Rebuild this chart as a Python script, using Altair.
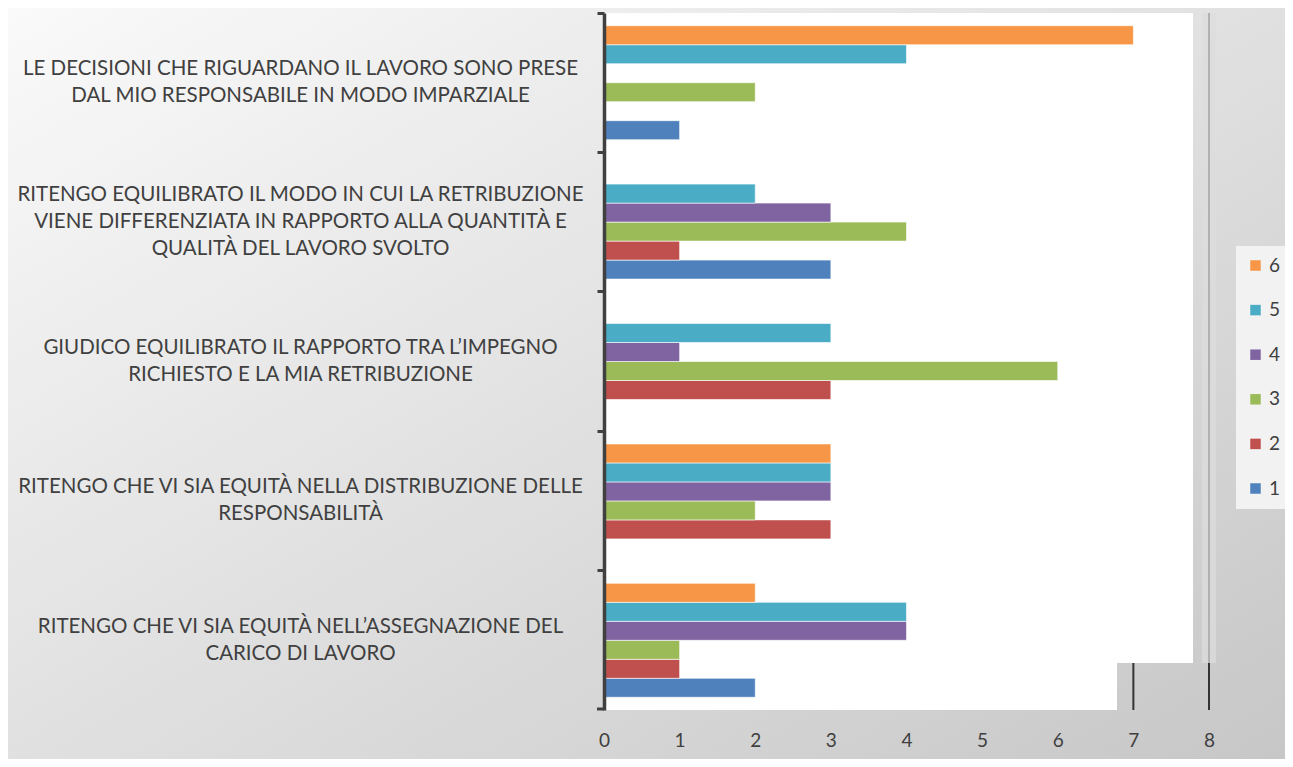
import altair as alt
import pandas as pd

# ---- data ----
categories = [
    "LE DECISIONI CHE RIGUARDANO IL LAVORO SONO PRESE|DAL MIO RESPONSABILE IN MODO IMPARZIALE",
    "RITENGO EQUILIBRATO IL MODO IN CUI LA RETRIBUZIONE|VIENE DIFFERENZIATA IN RAPPORTO ALLA QUANTITÀ E|QUALITÀ DEL LAVORO SVOLTO",
    "GIUDICO EQUILIBRATO IL RAPPORTO TRA L’IMPEGNO|RICHIESTO E LA MIA RETRIBUZIONE",
    "RITENGO CHE VI SIA EQUITÀ NELLA DISTRIBUZIONE DELLE|RESPONSABILITÀ",
    "RITENGO CHE VI SIA EQUITÀ NELL’ASSEGNAZIONE DEL|CARICO DI LAVORO",
]
series_names = ["1", "2", "3", "4", "5", "6"]
s1 = [1, 3, 0, 0, 2]
s2 = [0, 1, 3, 3, 1]
s3 = [2, 4, 6, 2, 1]
s4 = [0, 3, 1, 3, 4]
s5 = [4, 2, 3, 3, 4]
s6 = [7, 0, 0, 3, 2]
series_values = [s1, s2, s3, s4, s5, s6]
series_colors = ["#4f81bd", "#c0504d", "#9bbb59", "#8064a2", "#4bacc6", "#f79646"]
x_ticks = [0, 1, 2, 3, 4, 5, 6, 7, 8]
grid_ticks = [7, 8]

rows = []
for name, vals in zip(series_names, series_values):
    for cat, v in zip(categories, vals):
        if v > 0:
            rows.append({"cat": cat, "serie": name, "val": v})
df = pd.DataFrame(rows)

order_desc = series_names[::-1]
colors_desc = series_colors[::-1]

W, H = 605, 697
FONT = "Lato"
TXT = "#404040"
LH = 27

xscale = alt.Scale(domain=[0, 8], nice=False, zero=True)
xaxis = alt.Axis(values=x_ticks, grid=False, domain=False, ticks=False, zindex=1,
                 labelFlush=False,
                 labelFont=FONT, labelFontSize=19, labelColor=TXT,
                 labelPadding=21, format="d")

bg = alt.Chart(pd.DataFrame({"a": [0]})).mark_rect(
    color=alt.Gradient(
        gradient="linear",
        stops=[alt.GradientStop(color="#fafafa", offset=0),
               alt.GradientStop(color="#e0e0e0", offset=0.5),
               alt.GradientStop(color="#c6c6c6", offset=1)],
        x1=0, y1=0, x2=1, y2=1,
    )
).encode(x=alt.value(-600), x2=alt.value(700), y=alt.value(-10), y2=alt.value(760))

rules = alt.Chart(pd.DataFrame({"v": grid_ticks})).mark_rule(
    color="#333333", strokeWidth=2
).encode(x=alt.X("v:Q", scale=xscale, title=None, axis=xaxis))

white1 = alt.Chart(pd.DataFrame({"a": [0]})).mark_rect(color="white").encode(
    x=alt.value(0), x2=alt.value(589), y=alt.value(0), y2=alt.value(650))
white2 = alt.Chart(pd.DataFrame({"a": [0]})).mark_rect(color="white").encode(
    x=alt.value(0), x2=alt.value(513), y=alt.value(650), y2=alt.value(H))
soften = alt.Chart(pd.DataFrame({"a": [0]})).mark_rect(color="#dcdcdc", opacity=0.75).encode(
    x=alt.value(598), x2=alt.value(612), y=alt.value(0), y2=alt.value(650))
bottom_tick = alt.Chart(pd.DataFrame({"a": [0]})).mark_rule(color=TXT, strokeWidth=3).encode(
    x=alt.value(-7), x2=alt.value(0), y=alt.value(H - 1))

label_shift = {
    "condition": {"test": "length(split(datum.value, '|')) > 2", "value": -LH},
    "value": -LH / 2,
}

bars = alt.Chart(df).mark_bar(stroke="white", strokeWidth=1, strokeOpacity=0.6).encode(
    x=alt.X("val:Q", scale=xscale, title=None, axis=xaxis),
    y=alt.Y("cat:N", sort=categories, title=None,
            scale=alt.Scale(domain=categories, paddingInner=0, paddingOuter=0),
            axis=alt.Axis(bandPosition=0, labelOffset=label_shift,
                          labelExpr="split(datum.label, '|')",
                          labelAlign="center", labelBaseline="middle",
                          labelPadding=297, tickSize=7, tickWidth=3, tickColor=TXT,
                          domainColor=TXT, domainWidth=3.5, zindex=1,
                          labelFont=FONT, labelFontSize=20.5, labelColor=TXT,
                          labelLineHeight=LH, labelLimit=800)),
    yOffset=alt.YOffset("serie:N", sort=order_desc,
                        scale=alt.Scale(domain=order_desc, paddingInner=0, paddingOuter=0.67)),
    color=alt.Color("serie:N", sort=order_desc,
                    scale=alt.Scale(domain=order_desc, range=colors_desc),
                    legend=alt.Legend(title=None, orient="none", legendX=632, legendY=233,
                                      fillColor="#f2f2f2", padding=10,
                                      symbolType="square", symbolSize=110,
                                      symbolStrokeWidth=0, rowPadding=24.6,
                                      labelFont=FONT, labelFontSize=19, labelColor=TXT,
                                      labelOffset=4)),
)

chart = alt.layer(bg, rules, white1, white2, soften, bottom_tick, bars).properties(
    width=W, height=H,
    autosize=alt.AutoSizeParams(type="none"),
    padding={"left": 596, "top": 5, "right": 76, "bottom": 49},
    background="#d8d8d8",
).configure_view(stroke=None, fill=None)

chart.save("out.html", embed_options={"renderer": "svg", "actions": False})
